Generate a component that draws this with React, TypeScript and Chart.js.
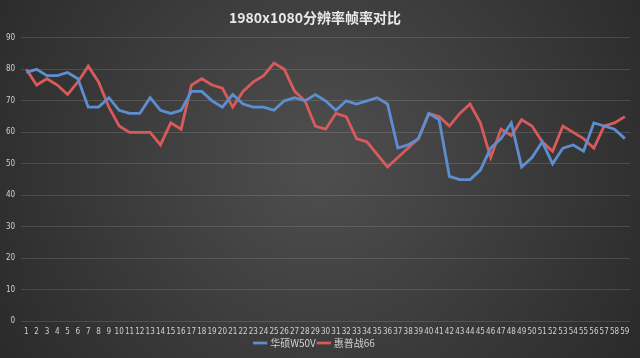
import React, { useEffect, useRef } from "react";
import { Chart, registerables } from "chart.js";

Chart.register(...registerables);

const categories: string[] = Array.from({ length: 59 }, (_, i) => String(i + 1));

const asusW50V: number[] = [
  79, 80, 78, 78, 79, 77, 68, 68, 71, 67,
  66, 66, 71, 67, 66, 67, 73, 73, 70, 68,
  72, 69, 68, 68, 67, 70, 71, 70, 72, 70,
  67, 70, 69, 70, 71, 69, 55, 56, 58, 66,
  64, 46, 45, 45, 48, 55, 58, 63, 49, 52,
  57, 50, 55, 56, 54, 63, 62, 61, 58,
];

const hpZhan66: number[] = [
  80, 75, 77, 75, 72, 76, 81, 76, 68, 62,
  60, 60, 60, 56, 63, 61, 75, 77, 75, 74,
  68, 73, 76, 78, 82, 80, 73, 70, 62, 61,
  66, 65, 58, 57, 53, 49, 52, 55, 58, 66,
  65, 62, 66, 69, 63, 52, 61, 59, 64, 62,
  57, 54, 62, 60, 58, 55, 62, 63, 65,
];

const seriesNames = ["华硕W50V", "惠普战66"];
const yTicks = { min: 0, max: 90, step: 10 };

const bgPlugin = {
  id: "bg",
  beforeDraw(chart: any) {
    const { ctx, width, height } = chart;
    ctx.save();
    const g = ctx.createRadialGradient(width * 0.5, height * 0.45, 20, width * 0.5, height * 0.45, width * 0.65);
    g.addColorStop(0, "#4d4d4d");
    g.addColorStop(1, "#262626");
    ctx.fillStyle = g;
    ctx.fillRect(0, 0, width, height);
    ctx.restore();
  },
};

export default function App() {
  const ref = useRef<HTMLCanvasElement>(null);
  useEffect(() => {
    document.body.style.margin = "0";
    const chart = new Chart(ref.current!, {
      type: "line",
      data: {
        labels: categories,
        datasets: [
          {
            label: seriesNames[0],
            data: asusW50V,
            borderColor: "#5d8fd0",
            backgroundColor: "#5d8fd0",
            borderWidth: 2.8,
            pointRadius: 0,
            tension: 0,
          },
          {
            label: seriesNames[1],
            data: hpZhan66,
            borderColor: "#d95a5b",
            backgroundColor: "#d95a5b",
            borderWidth: 2.8,
            pointRadius: 0,
            tension: 0,
          },
        ],
      },
      options: {
        animation: false,
        responsive: false,
        layout: { padding: { left: 0, right: 10, top: 0, bottom: 0 } },
        plugins: {
          title: {
            display: true,
            text: "1980x1080分辨率帧率对比",
            color: "#e8e8e8",
            font: { size: 14, weight: "bold", family: "'Noto Sans CJK SC', sans-serif" },
            padding: { top: 9, bottom: 12 },
          },
          legend: {
            position: "bottom",
            labels: {
              color: "#d0d0d0",
              usePointStyle: true,
              pointStyle: "line",
              boxWidth: 30,
              font: { size: 10, family: "'Noto Sans CJK SC', sans-serif" },
              padding: 3,
            },
          },
          tooltip: { enabled: false },
        },
        scales: {
          x: {
            offset: true,
            grid: { display: false },
            border: { display: false },
            ticks: {
              color: "#d0d0d0",
              font: { size: 8, family: "'DejaVu Sans Condensed', 'Liberation Sans Narrow', sans-serif" },
              maxRotation: 0,
              autoSkip: false,
              padding: -2,
            },
          },
          y: {
            min: yTicks.min,
            max: yTicks.max,
            grid: { color: "rgba(255,255,255,0.13)", drawTicks: false },
            border: { display: false },
            ticks: {
              stepSize: yTicks.step,
              color: "#d0d0d0",
              font: { size: 8, family: "'DejaVu Sans Condensed', 'Liberation Sans Narrow', sans-serif" },
              padding: 6,
            },
          },
        },
      },
      plugins: [bgPlugin],
    });
    return () => chart.destroy();
  }, []);
  return <canvas ref={ref} width={640} height={358} style={{ display: "block" }} />;
}
